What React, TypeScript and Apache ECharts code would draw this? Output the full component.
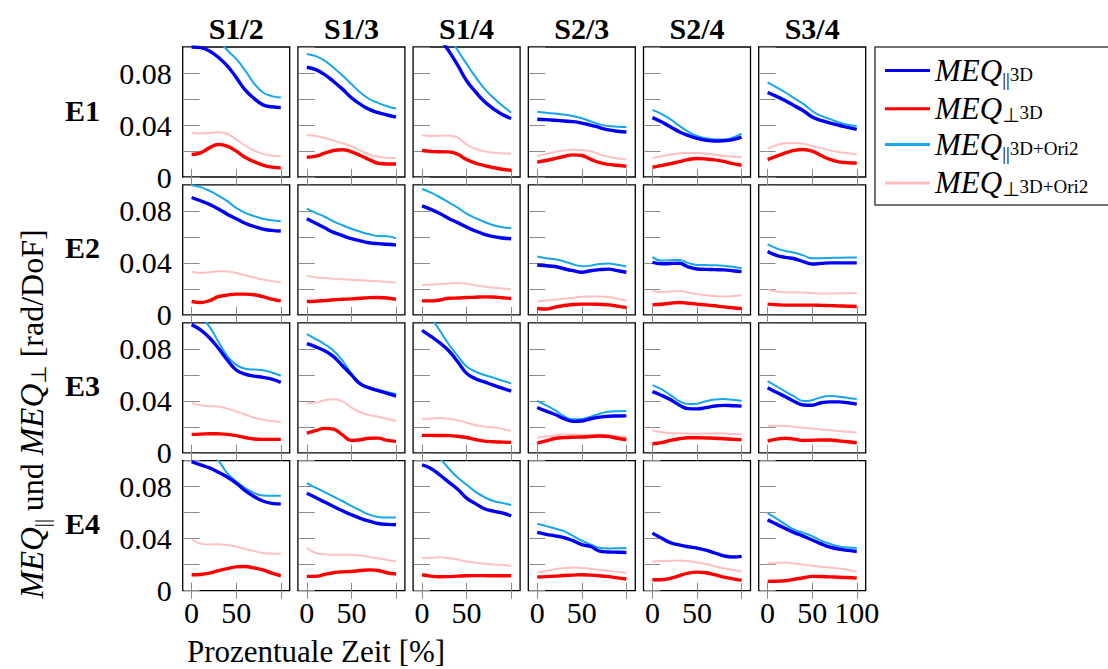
import React, { useEffect, useRef } from 'react';
import * as echarts from 'echarts';

// ---------- categories & ticks ----------
const X = [0, 10, 20, 30, 40, 50, 60, 70, 80, 90, 100];
const COLS = ['S1/2', 'S1/3', 'S1/4', 'S2/3', 'S2/4', 'S3/4'];
const ROWS = ['E1', 'E2', 'E3', 'E4'];
const Y_LABELS = [0, 0.04, 0.08];
const X_TICKS = [0, 50, 100];
const X_LABELS = [0, 50];
const X_LABELS_LAST = [0, 50, 100];

// ---------- MEQ_par 3D (blue) : one list per column S1/2..S3/4 ----------
const par3D_E1 = [
  [0.1, 0.0995, 0.097, 0.092, 0.0855, 0.0766, 0.067, 0.0605, 0.0555, 0.054, 0.0534],
  [0.0844, 0.0826, 0.0787, 0.0735, 0.0676, 0.061, 0.056, 0.052, 0.0495, 0.0477, 0.046],
  [0.128, 0.118, 0.107, 0.097, 0.086, 0.074, 0.0655, 0.058, 0.0525, 0.048, 0.045],
  [0.0444, 0.0441, 0.0436, 0.0431, 0.0426, 0.0415, 0.0399, 0.038, 0.0362, 0.0352, 0.0346],
  [0.0457, 0.0425, 0.0387, 0.0348, 0.032, 0.0297, 0.0283, 0.0277, 0.0279, 0.0288, 0.0307],
  [0.065, 0.062, 0.0586, 0.0548, 0.051, 0.0462, 0.0435, 0.0415, 0.0398, 0.0382, 0.0366],
];
const par3D_E2 = [
  [0.0903, 0.0878, 0.085, 0.0815, 0.0775, 0.074, 0.0705, 0.068, 0.066, 0.065, 0.0645],
  [0.074, 0.0705, 0.067, 0.0635, 0.061, 0.0586, 0.057, 0.0555, 0.0548, 0.0543, 0.0537],
  [0.0839, 0.0812, 0.078, 0.0742, 0.071, 0.0676, 0.0645, 0.062, 0.0602, 0.0592, 0.0586],
  [0.0384, 0.0378, 0.0372, 0.0355, 0.034, 0.0328, 0.034, 0.0348, 0.0352, 0.034, 0.0328],
  [0.0405, 0.0393, 0.0395, 0.0397, 0.037, 0.0353, 0.035, 0.0348, 0.0346, 0.034, 0.0333],
  [0.0488, 0.0458, 0.0442, 0.0432, 0.041, 0.0392, 0.0396, 0.04, 0.04, 0.04, 0.04],
];
const par3D_E3 = [
  [0.0986, 0.0945, 0.0885, 0.0805, 0.0715, 0.0637, 0.0605, 0.059, 0.058, 0.0567, 0.0542],
  [0.0839, 0.0815, 0.0785, 0.074, 0.067, 0.0599, 0.053, 0.05, 0.0478, 0.0458, 0.0436],
  [0.0942, 0.0895, 0.0845, 0.0785, 0.07, 0.0611, 0.057, 0.0545, 0.052, 0.0497, 0.0475],
  [0.0348, 0.032, 0.0295, 0.0263, 0.0242, 0.0245, 0.0262, 0.0274, 0.0281, 0.0283, 0.0284],
  [0.047, 0.0443, 0.041, 0.0368, 0.034, 0.0338, 0.0347, 0.036, 0.0365, 0.0362, 0.0359],
  [0.05, 0.0465, 0.0431, 0.0395, 0.0368, 0.0366, 0.0385, 0.0392, 0.0392, 0.0385, 0.0374],
];
const par3D_E4 = [
  [0.0993, 0.0968, 0.0945, 0.0912, 0.0875, 0.0827, 0.077, 0.0725, 0.069, 0.0672, 0.0668],
  [0.075, 0.0717, 0.0682, 0.0648, 0.0615, 0.0584, 0.0557, 0.0535, 0.0517, 0.051, 0.0507],
  [0.0968, 0.094, 0.089, 0.0835, 0.078, 0.0712, 0.067, 0.063, 0.0612, 0.0598, 0.0576],
  [0.0448, 0.0433, 0.0422, 0.0408, 0.0385, 0.0355, 0.034, 0.0305, 0.0298, 0.0296, 0.0294],
  [0.0443, 0.0405, 0.037, 0.0352, 0.0338, 0.0328, 0.0312, 0.029, 0.0268, 0.0259, 0.0264],
  [0.0545, 0.0512, 0.0478, 0.0447, 0.042, 0.039, 0.036, 0.0335, 0.032, 0.031, 0.0302],
];

// ---------- MEQ_perp 3D (red) ----------
const perp3D_E1 = [
  [0.0173, 0.0186, 0.0224, 0.025, 0.0238, 0.0199, 0.0152, 0.0118, 0.0092, 0.0076, 0.007],
  [0.0152, 0.016, 0.0183, 0.0204, 0.021, 0.0194, 0.0165, 0.0134, 0.0106, 0.01, 0.01],
  [0.0204, 0.0197, 0.0194, 0.0193, 0.0175, 0.0134, 0.0106, 0.0088, 0.0073, 0.006, 0.0052],
  [0.0114, 0.0127, 0.0142, 0.0158, 0.017, 0.0165, 0.0136, 0.011, 0.0097, 0.009, 0.0083],
  [0.0075, 0.0088, 0.0102, 0.0118, 0.0134, 0.0142, 0.0139, 0.0132, 0.012, 0.0103, 0.009],
  [0.0134, 0.016, 0.0186, 0.0205, 0.0212, 0.0199, 0.0165, 0.0135, 0.0116, 0.011, 0.0108],
];
const perp3D_E2 = [
  [0.0103, 0.0095, 0.011, 0.014, 0.0152, 0.016, 0.016, 0.0155, 0.014, 0.0122, 0.0108],
  [0.0103, 0.0105, 0.011, 0.0116, 0.012, 0.0123, 0.0128, 0.0133, 0.0134, 0.013, 0.0119],
  [0.0108, 0.0108, 0.0115, 0.0128, 0.013, 0.0134, 0.0136, 0.0139, 0.0138, 0.0132, 0.0126],
  [0.0049, 0.0045, 0.006, 0.0072, 0.008, 0.0083, 0.0083, 0.0081, 0.0077, 0.0068, 0.0057],
  [0.0077, 0.0082, 0.009, 0.0095, 0.009, 0.0083, 0.0077, 0.007, 0.0062, 0.0055, 0.0049],
  [0.0083, 0.0078, 0.0075, 0.0075, 0.0075, 0.0075, 0.0073, 0.0071, 0.0069, 0.0067, 0.0065],
];
const perp3D_E3 = [
  [0.0142, 0.0144, 0.0147, 0.0146, 0.0142, 0.0132, 0.0118, 0.0106, 0.0103, 0.0103, 0.0103],
  [0.0152, 0.017, 0.0188, 0.0182, 0.0138, 0.0095, 0.01, 0.0112, 0.0113, 0.0095, 0.0088],
  [0.0134, 0.0134, 0.0133, 0.0132, 0.0127, 0.0118, 0.0102, 0.009, 0.0085, 0.0082, 0.008],
  [0.0075, 0.0092, 0.011, 0.0117, 0.012, 0.0121, 0.0125, 0.0129, 0.0125, 0.0112, 0.01],
  [0.007, 0.0078, 0.0095, 0.0108, 0.0116, 0.0116, 0.0114, 0.0112, 0.0108, 0.0104, 0.01],
  [0.009, 0.0105, 0.0112, 0.0105, 0.0095, 0.0097, 0.0098, 0.0098, 0.0092, 0.0085, 0.0077],
];
const perp3D_E4 = [
  [0.0123, 0.0125, 0.0135, 0.0155, 0.017, 0.0183, 0.0186, 0.0175, 0.016, 0.0135, 0.0115],
  [0.011, 0.011, 0.0125, 0.0138, 0.0145, 0.0148, 0.0155, 0.016, 0.0155, 0.0138, 0.0128],
  [0.0123, 0.0112, 0.0107, 0.0108, 0.0112, 0.0115, 0.0116, 0.0116, 0.0115, 0.0115, 0.0115],
  [0.0105, 0.0108, 0.0112, 0.0117, 0.012, 0.0123, 0.012, 0.0115, 0.0108, 0.0099, 0.009],
  [0.0084, 0.0084, 0.0095, 0.0115, 0.0135, 0.0143, 0.0138, 0.0123, 0.0105, 0.0092, 0.0079],
  [0.0072, 0.0073, 0.0077, 0.0088, 0.01, 0.011, 0.0109, 0.0106, 0.0104, 0.0101, 0.0097],
];

// ---------- MEQ_par 3D+Ori2 (light blue) ----------
const parOri_E1 = [
  [0.128, 0.121, 0.114, 0.106, 0.0975, 0.0908, 0.082, 0.072, 0.065, 0.0622, 0.0611],
  [0.0947, 0.093, 0.0895, 0.084, 0.078, 0.0715, 0.065, 0.06, 0.057, 0.0544, 0.0527],
  [0.14, 0.13, 0.12, 0.109, 0.0975, 0.087, 0.077, 0.068, 0.061, 0.055, 0.0495],
  [0.0501, 0.0495, 0.0488, 0.048, 0.047, 0.0452, 0.0428, 0.0405, 0.0392, 0.0387, 0.0384],
  [0.0516, 0.0486, 0.0445, 0.0395, 0.035, 0.0315, 0.0298, 0.0289, 0.0288, 0.0302, 0.0333],
  [0.0728, 0.069, 0.065, 0.0605, 0.0562, 0.0508, 0.047, 0.0445, 0.042, 0.0402, 0.0392],
];
const parOri_E2 = [
  [0.0998, 0.0983, 0.0955, 0.0918, 0.0875, 0.0823, 0.0785, 0.076, 0.074, 0.0728, 0.072],
  [0.0818, 0.0785, 0.0755, 0.072, 0.069, 0.0663, 0.064, 0.062, 0.0607, 0.0605, 0.059],
  [0.0968, 0.094, 0.0905, 0.0865, 0.0825, 0.0779, 0.0745, 0.0715, 0.069, 0.0675, 0.0668],
  [0.0449, 0.0435, 0.0428, 0.0412, 0.039, 0.0374, 0.0379, 0.0392, 0.0395, 0.0385, 0.0372],
  [0.0444, 0.0418, 0.0421, 0.0423, 0.04, 0.0384, 0.0383, 0.0382, 0.0378, 0.037, 0.0359],
  [0.0542, 0.0512, 0.0492, 0.0478, 0.0458, 0.0436, 0.0436, 0.0438, 0.044, 0.0441, 0.0441],
];
const parOri_E3 = [
  [0.112, 0.105, 0.097, 0.0855, 0.0745, 0.0676, 0.0647, 0.064, 0.0635, 0.0618, 0.0593],
  [0.0913, 0.0875, 0.0835, 0.0785, 0.071, 0.0611, 0.0535, 0.0502, 0.0485, 0.0468, 0.0452],
  [0.112, 0.104, 0.094, 0.0835, 0.0745, 0.0663, 0.0625, 0.0598, 0.0578, 0.0555, 0.0534],
  [0.04, 0.0365, 0.0328, 0.0282, 0.0258, 0.026, 0.0278, 0.03, 0.0316, 0.032, 0.0322],
  [0.0521, 0.049, 0.0445, 0.0398, 0.0376, 0.0378, 0.0397, 0.041, 0.0414, 0.0408, 0.04],
  [0.0552, 0.0512, 0.047, 0.0432, 0.0398, 0.0405, 0.0428, 0.0436, 0.0432, 0.0422, 0.0413],
];
const parOri_E4 = [
  [0.118, 0.112, 0.106, 0.1, 0.0904, 0.084, 0.079, 0.0752, 0.0732, 0.073, 0.073],
  [0.0827, 0.0792, 0.0758, 0.0724, 0.069, 0.0653, 0.0618, 0.0585, 0.0567, 0.0563, 0.0563],
  [0.118, 0.11, 0.102, 0.094, 0.087, 0.0815, 0.076, 0.072, 0.069, 0.0675, 0.066],
  [0.0515, 0.0497, 0.0478, 0.0458, 0.0422, 0.0385, 0.0355, 0.033, 0.0325, 0.0326, 0.0328],
  [0.0443, 0.0405, 0.037, 0.0352, 0.0338, 0.0328, 0.0312, 0.029, 0.0268, 0.0259, 0.0264],
  [0.0597, 0.0555, 0.051, 0.047, 0.0445, 0.042, 0.0385, 0.036, 0.034, 0.0333, 0.0328],
];

// ---------- MEQ_perp 3D+Ori2 (pink) ----------
const perpOri_E1 = [
  [0.034, 0.0335, 0.0338, 0.0347, 0.0333, 0.029, 0.0242, 0.0205, 0.0178, 0.0165, 0.016],
  [0.0323, 0.0315, 0.03, 0.028, 0.026, 0.0237, 0.0204, 0.0173, 0.0155, 0.0147, 0.0147],
  [0.0322, 0.0316, 0.0318, 0.032, 0.0303, 0.025, 0.0215, 0.0197, 0.0187, 0.0182, 0.0178],
  [0.016, 0.0178, 0.0193, 0.0204, 0.021, 0.0208, 0.0198, 0.0175, 0.0156, 0.0143, 0.0134],
  [0.0147, 0.016, 0.0173, 0.0181, 0.0185, 0.0185, 0.018, 0.0172, 0.0162, 0.0156, 0.0152],
  [0.0219, 0.0245, 0.026, 0.0262, 0.0255, 0.0237, 0.0222, 0.0203, 0.0192, 0.0182, 0.0173],
];
const perpOri_E2 = [
  [0.0333, 0.0323, 0.0328, 0.0336, 0.0333, 0.0323, 0.0305, 0.0288, 0.0272, 0.026, 0.025],
  [0.0302, 0.029, 0.0283, 0.0278, 0.0274, 0.0271, 0.0267, 0.0263, 0.0259, 0.0255, 0.0248],
  [0.023, 0.0233, 0.0237, 0.0241, 0.0245, 0.024, 0.0228, 0.0218, 0.021, 0.0203, 0.0199],
  [0.0103, 0.011, 0.0117, 0.0124, 0.0132, 0.0139, 0.0141, 0.0142, 0.0138, 0.0125, 0.0108],
  [0.0186, 0.0175, 0.018, 0.0183, 0.0172, 0.016, 0.0152, 0.0146, 0.0142, 0.0145, 0.0152],
  [0.0193, 0.018, 0.0173, 0.0175, 0.0173, 0.0168, 0.0165, 0.0165, 0.0166, 0.0167, 0.0168],
];
const perpOri_E3 = [
  [0.0384, 0.0365, 0.0359, 0.0356, 0.034, 0.0318, 0.0295, 0.027, 0.0255, 0.0245, 0.0237],
  [0.0379, 0.0386, 0.0405, 0.0412, 0.0395, 0.0348, 0.0312, 0.029, 0.0278, 0.0262, 0.0245],
  [0.0258, 0.0263, 0.0268, 0.0262, 0.025, 0.0232, 0.0212, 0.0202, 0.0196, 0.0184, 0.0168],
  [0.0116, 0.0125, 0.0135, 0.014, 0.014, 0.0139, 0.0139, 0.0139, 0.0135, 0.0128, 0.0121],
  [0.0173, 0.0158, 0.0153, 0.015, 0.0148, 0.0147, 0.0148, 0.015, 0.0148, 0.0144, 0.0142],
  [0.0209, 0.0208, 0.0206, 0.02, 0.0192, 0.0186, 0.018, 0.0173, 0.0167, 0.0162, 0.0157],
];
const perpOri_E4 = [
  [0.0392, 0.0362, 0.0355, 0.0358, 0.0352, 0.034, 0.032, 0.0305, 0.029, 0.0285, 0.0284],
  [0.0328, 0.029, 0.028, 0.0277, 0.0276, 0.0276, 0.027, 0.026, 0.0248, 0.0236, 0.0225],
  [0.0251, 0.0254, 0.0258, 0.0252, 0.024, 0.0225, 0.0215, 0.0208, 0.0202, 0.0198, 0.0192],
  [0.0141, 0.0152, 0.0165, 0.0175, 0.0178, 0.0174, 0.0168, 0.016, 0.0154, 0.0145, 0.0136],
  [0.0225, 0.0228, 0.023, 0.0232, 0.0228, 0.0218, 0.0205, 0.0188, 0.0172, 0.016, 0.0148],
  [0.0212, 0.0214, 0.0217, 0.021, 0.02, 0.0192, 0.0185, 0.0178, 0.017, 0.016, 0.0148],
];

const PAR3D = [par3D_E1, par3D_E2, par3D_E3, par3D_E4];
const PERP3D = [perp3D_E1, perp3D_E2, perp3D_E3, perp3D_E4];
const PARORI = [parOri_E1, parOri_E2, parOri_E3, parOri_E4];
const PERPORI = [perpOri_E1, perpOri_E2, perpOri_E3, perpOri_E4];

// ---------- styles ----------
const FONT = 'Liberation Serif';
const N_PAR3D = 'MEQ|| 3D';
const N_PERP3D = 'MEQ⊥ 3D';
const N_PARORI = 'MEQ|| 3D+Ori2';
const N_PERPORI = 'MEQ⊥ 3D+Ori2';
const SERIES_DEFS = [
  { name: N_PARORI, color: '#16a6ec', width: 2, data: PARORI },
  { name: N_PERPORI, color: '#ffc0c0', width: 2, data: PERPORI },
  { name: N_PAR3D, color: '#0000f5', width: 3.4, data: PAR3D },
  { name: N_PERP3D, color: '#ff0000', width: 3.4, data: PERP3D },
];
const LEGEND_TEXT: Record<string, string> = {
  [N_PAR3D]: '{it|MEQ}{bars|||}{up|3D}',
  [N_PERP3D]: '{it|MEQ}{perp|⊥}{up|3D}',
  [N_PARORI]: '{it|MEQ}{bars|||}{up|3D+Ori2}',
  [N_PERPORI]: '{it|MEQ}{perp|⊥}{up|3D+Ori2}',
};

const GX0 = 182.7, GDX = 115.2, GY0 = 47, GDY = 137.9, GW = 107, GH = 130;

function buildOption() {
  const grid: any[] = [];
  const xAxis: any[] = [];
  const yAxis: any[] = [];
  const series: any[] = [];
  const tick = { show: true, inside: true, length: 8, lineStyle: { color: '#8a8a8a', width: 1 } };
  const labelStyle = { fontFamily: FONT, fontSize: 30, color: '#000' };
  ROWS.forEach((_, r) => {
    COLS.forEach((__, c) => {
      const g = r * COLS.length + c;
      grid.push({
        left: GX0 + GDX * c, top: GY0 + GDY * r, width: GW, height: GH,
        show: true, borderColor: '#000', borderWidth: 1.3, backgroundColor: 'transparent',
      });
      for (const pos of ['bottom', 'top']) {
        xAxis.push({
          type: 'value', gridIndex: g, position: pos, min: -10, max: 110,
          splitLine: { show: false }, axisLine: { show: false },
          axisTick: { ...tick, customValues: X_TICKS },
          axisLabel: {
            show: pos === 'bottom' && r === ROWS.length - 1,
            customValues: c === COLS.length - 1 ? X_LABELS_LAST : X_LABELS,
            margin: 7, ...labelStyle,
          },
        });
      }
      for (const pos of ['left', 'right']) {
        yAxis.push({
          type: 'value', gridIndex: g, position: pos, min: 0, max: 0.1, interval: 0.02,
          splitLine: { show: false }, axisLine: { show: false },
          axisTick: tick,
          axisLabel: {
            show: pos === 'left' && c === 0,
            customValues: Y_LABELS,
            formatter: (v: number) => (v === 0 ? '0' : String(v)),
            margin: 11, ...labelStyle,
          },
        });
      }
      SERIES_DEFS.forEach((d) => {
        const vals = d.data[r][c];
        series.push({
          type: 'line', name: d.name, xAxisIndex: 2 * g, yAxisIndex: 2 * g,
          data: X.map((x, i) => [x, vals[i]]),
          smooth: 0.45, symbol: 'none', showSymbol: false, clip: true, silent: true,
          lineStyle: { color: d.color, width: d.width },
          itemStyle: { color: d.color },
        });
      });
    });
  });

  const graphic: any[] = [];
  COLS.forEach((t, c) => {
    graphic.push({
      type: 'text', x: GX0 + GDX * c + GW / 2, y: 28,
      style: { text: t, font: `bold 30px ${FONT}`, fontFamily: FONT, fontWeight: 'bold', fontSize: 30, fill: '#000', align: 'center', verticalAlign: 'middle' },
    });
  });
  ROWS.forEach((t, r) => {
    graphic.push({
      type: 'text', x: 82.5, y: GY0 + GDY * r + 63,
      style: { text: t, font: `bold 30px ${FONT}`, fontFamily: FONT, fontWeight: 'bold', fontSize: 30, fill: '#000', align: 'center', verticalAlign: 'middle' },
    });
  });
  graphic.push({
    type: 'text', x: 32, y: 414, rotation: Math.PI / 2,
    style: {
      text: '{it|MEQ}{bars|||} und {it|MEQ}{perp|⊥} [rad/DoF]',
      fontFamily: FONT, fontSize: 32, fill: '#000', align: 'center', verticalAlign: 'middle',
      rich: {
        it: { fontFamily: FONT, fontStyle: 'italic', fontSize: 33, fill: '#000' },
        bars: { fontFamily: FONT, fontSize: 20, padding: [19, 0, 0, 0], fill: '#000' },
        perp: { fontFamily: 'DejaVu Sans', fontSize: 21, padding: [13, 0, 0, 0], fill: '#000' },
      },
    },
  });
  graphic.push({
    type: 'text', x: 316, y: 651,
    style: { text: 'Prozentuale Zeit [%]', font: `31px ${FONT}`, fontFamily: FONT, fontSize: 31, fill: '#000', align: 'center', verticalAlign: 'middle' },
  });

  return {
    animation: false,
    backgroundColor: '#fff',
    grid, xAxis, yAxis, series, graphic,
    legend: {
      orient: 'vertical', left: 875, top: 47,
      data: [N_PAR3D, N_PERP3D, N_PARORI, N_PERPORI].map((n) => ({ name: n, icon: 'rect' })),
      itemWidth: 45, itemHeight: 3, itemGap: 4.3,
      padding: [8, 30, 6, 10],
      borderColor: '#444', borderWidth: 1.5, borderRadius: 0,
      selectedMode: false,
      formatter: (n: string) => LEGEND_TEXT[n] || n,
      textStyle: {
        fontFamily: FONT, fontSize: 31, color: '#000',
        rich: {
          it: { fontFamily: FONT, fontStyle: 'italic', fontSize: 31, color: '#000' },
          bars: { fontFamily: FONT, fontSize: 19, padding: [18, 0, 0, 0], color: '#000' },
          perp: { fontFamily: 'DejaVu Sans', fontSize: 20, padding: [12, 0, 0, 0], color: '#000' },
          up: { fontFamily: FONT, fontSize: 19, padding: [8, 0, 0, 0], color: '#000' },
        },
      },
    },
  };
}

export default function App() {
  const ref = useRef<HTMLDivElement>(null);
  useEffect(() => {
    if (!ref.current) return;
    const chart = echarts.init(ref.current, null, { renderer: 'svg' });
    chart.setOption(buildOption() as any);
    return () => chart.dispose();
  }, []);
  return (
    <div
      ref={ref}
      style={{ position: 'fixed', left: 0, top: 0, width: 1108, height: 669, background: '#fff' }}
    />
  );
}
